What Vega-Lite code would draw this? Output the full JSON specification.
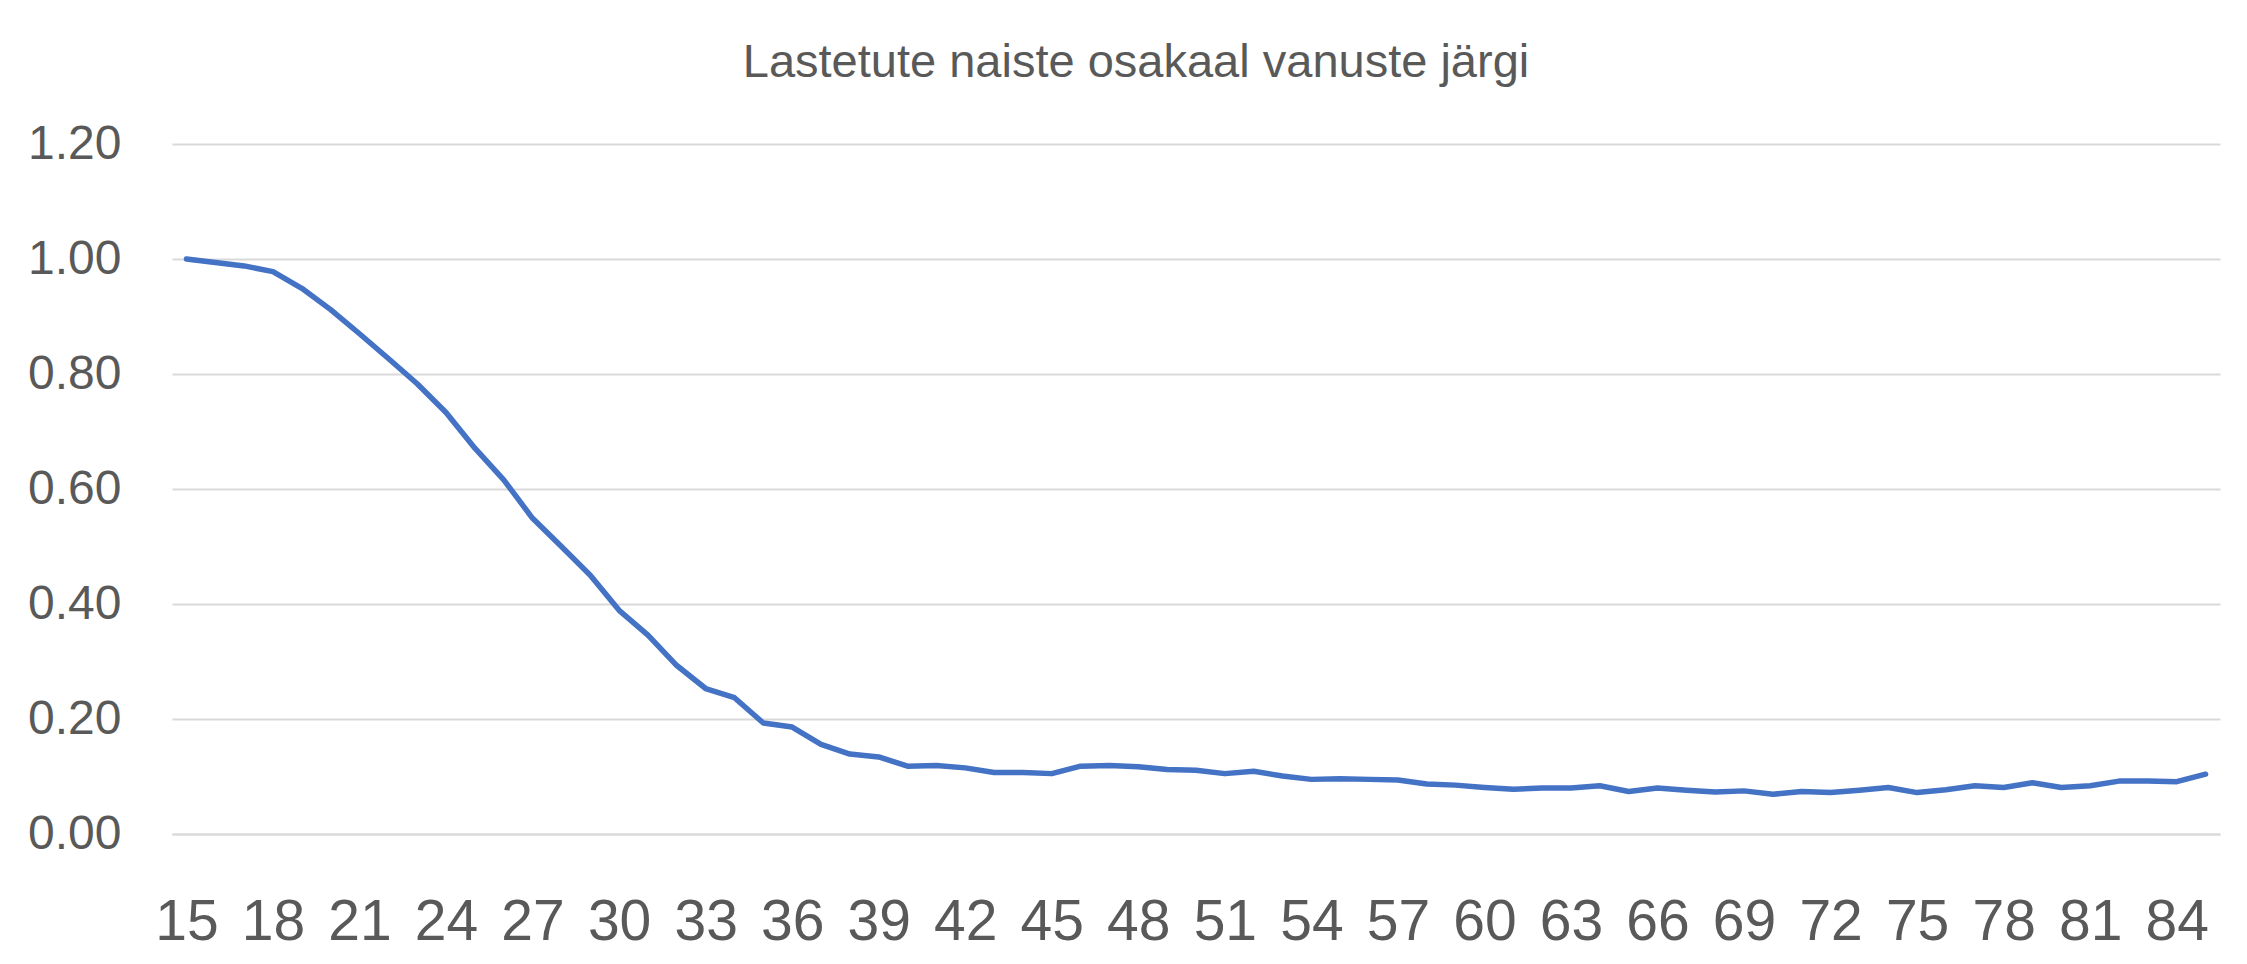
{
  "$schema": "https://vega.github.io/schema/vega-lite/v6.json",
  "width": 2048,
  "height": 690,
  "autosize": {"type": "none"},
  "padding": {"left": 172, "top": 144, "right": 27, "bottom": 130},
  "background": "white",
  "title": {
    "text": "Lastetute naiste osakaal vanuste järgi",
    "font": "Liberation Sans",
    "fontSize": 47,
    "fontWeight": "normal",
    "color": "#595959",
    "anchor": "middle",
    "frame": "group",
    "dx": -60,
    "baseline": "alphabetic",
    "offset": -4
  },
  "config": {
    "view": {"stroke": null},
    "axis": {"labelFont": "Liberation Sans", "labelColor": "#595959", "gridColor": "#D9D9D9", "gridWidth": 2}
  },
  "data": {
    "values": [
      {"vanus": 15, "osakaal": 1.000}, {"vanus": 16, "osakaal": 0.994}, {"vanus": 17, "osakaal": 0.988},
      {"vanus": 18, "osakaal": 0.978}, {"vanus": 19, "osakaal": 0.949}, {"vanus": 20, "osakaal": 0.912},
      {"vanus": 21, "osakaal": 0.870}, {"vanus": 22, "osakaal": 0.827}, {"vanus": 23, "osakaal": 0.783},
      {"vanus": 24, "osakaal": 0.733}, {"vanus": 25, "osakaal": 0.671}, {"vanus": 26, "osakaal": 0.616},
      {"vanus": 27, "osakaal": 0.549}, {"vanus": 28, "osakaal": 0.500}, {"vanus": 29, "osakaal": 0.450},
      {"vanus": 30, "osakaal": 0.389}, {"vanus": 31, "osakaal": 0.346}, {"vanus": 32, "osakaal": 0.293},
      {"vanus": 33, "osakaal": 0.253}, {"vanus": 34, "osakaal": 0.237}, {"vanus": 35, "osakaal": 0.193},
      {"vanus": 36, "osakaal": 0.186}, {"vanus": 37, "osakaal": 0.156}, {"vanus": 38, "osakaal": 0.139},
      {"vanus": 39, "osakaal": 0.134}, {"vanus": 40, "osakaal": 0.118}, {"vanus": 41, "osakaal": 0.119},
      {"vanus": 42, "osakaal": 0.115}, {"vanus": 43, "osakaal": 0.107}, {"vanus": 44, "osakaal": 0.107},
      {"vanus": 45, "osakaal": 0.105}, {"vanus": 46, "osakaal": 0.118}, {"vanus": 47, "osakaal": 0.119},
      {"vanus": 48, "osakaal": 0.117}, {"vanus": 49, "osakaal": 0.112}, {"vanus": 50, "osakaal": 0.111},
      {"vanus": 51, "osakaal": 0.105}, {"vanus": 52, "osakaal": 0.109}, {"vanus": 53, "osakaal": 0.101},
      {"vanus": 54, "osakaal": 0.095}, {"vanus": 55, "osakaal": 0.096}, {"vanus": 56, "osakaal": 0.095},
      {"vanus": 57, "osakaal": 0.094}, {"vanus": 58, "osakaal": 0.087}, {"vanus": 59, "osakaal": 0.085},
      {"vanus": 60, "osakaal": 0.081}, {"vanus": 61, "osakaal": 0.078}, {"vanus": 62, "osakaal": 0.080},
      {"vanus": 63, "osakaal": 0.080}, {"vanus": 64, "osakaal": 0.084}, {"vanus": 65, "osakaal": 0.074},
      {"vanus": 66, "osakaal": 0.080}, {"vanus": 67, "osakaal": 0.076}, {"vanus": 68, "osakaal": 0.073},
      {"vanus": 69, "osakaal": 0.075}, {"vanus": 70, "osakaal": 0.069}, {"vanus": 71, "osakaal": 0.074},
      {"vanus": 72, "osakaal": 0.072}, {"vanus": 73, "osakaal": 0.076}, {"vanus": 74, "osakaal": 0.081},
      {"vanus": 75, "osakaal": 0.072}, {"vanus": 76, "osakaal": 0.077}, {"vanus": 77, "osakaal": 0.084},
      {"vanus": 78, "osakaal": 0.081}, {"vanus": 79, "osakaal": 0.089}, {"vanus": 80, "osakaal": 0.081},
      {"vanus": 81, "osakaal": 0.084}, {"vanus": 82, "osakaal": 0.092}, {"vanus": 83, "osakaal": 0.092},
      {"vanus": 84, "osakaal": 0.091}, {"vanus": 85, "osakaal": 0.104}
    ]
  },
  "mark": {"type": "line", "color": "#4472C4", "strokeWidth": 5.5, "strokeCap": "round", "strokeJoin": "round"},
  "encoding": {
    "x": {
      "field": "vanus",
      "type": "quantitative",
      "scale": {"domain": [14.5, 85.5], "nice": false, "zero": false},
      "axis": {
        "title": null,
        "values": [15, 18, 21, 24, 27, 30, 33, 36, 39, 42, 45, 48, 51, 54, 57, 60, 63, 66, 69, 72, 75, 78, 81, 84],
        "format": "d",
        "grid": false,
        "ticks": false,
        "domain": true,
        "domainColor": "#D9D9D9",
        "domainWidth": 2,
        "labelFontSize": 57,
        "labelPadding": 60,
        "labelBaseline": "top"
      }
    },
    "y": {
      "field": "osakaal",
      "type": "quantitative",
      "scale": {"domain": [0, 1.2], "nice": false},
      "axis": {
        "title": null,
        "values": [0, 0.2, 0.4, 0.6, 0.8, 1.0, 1.2],
        "format": ".2f",
        "grid": true,
        "ticks": false,
        "domain": false,
        "labelFontSize": 48,
        "labelPadding": 51
      }
    }
  }
}
